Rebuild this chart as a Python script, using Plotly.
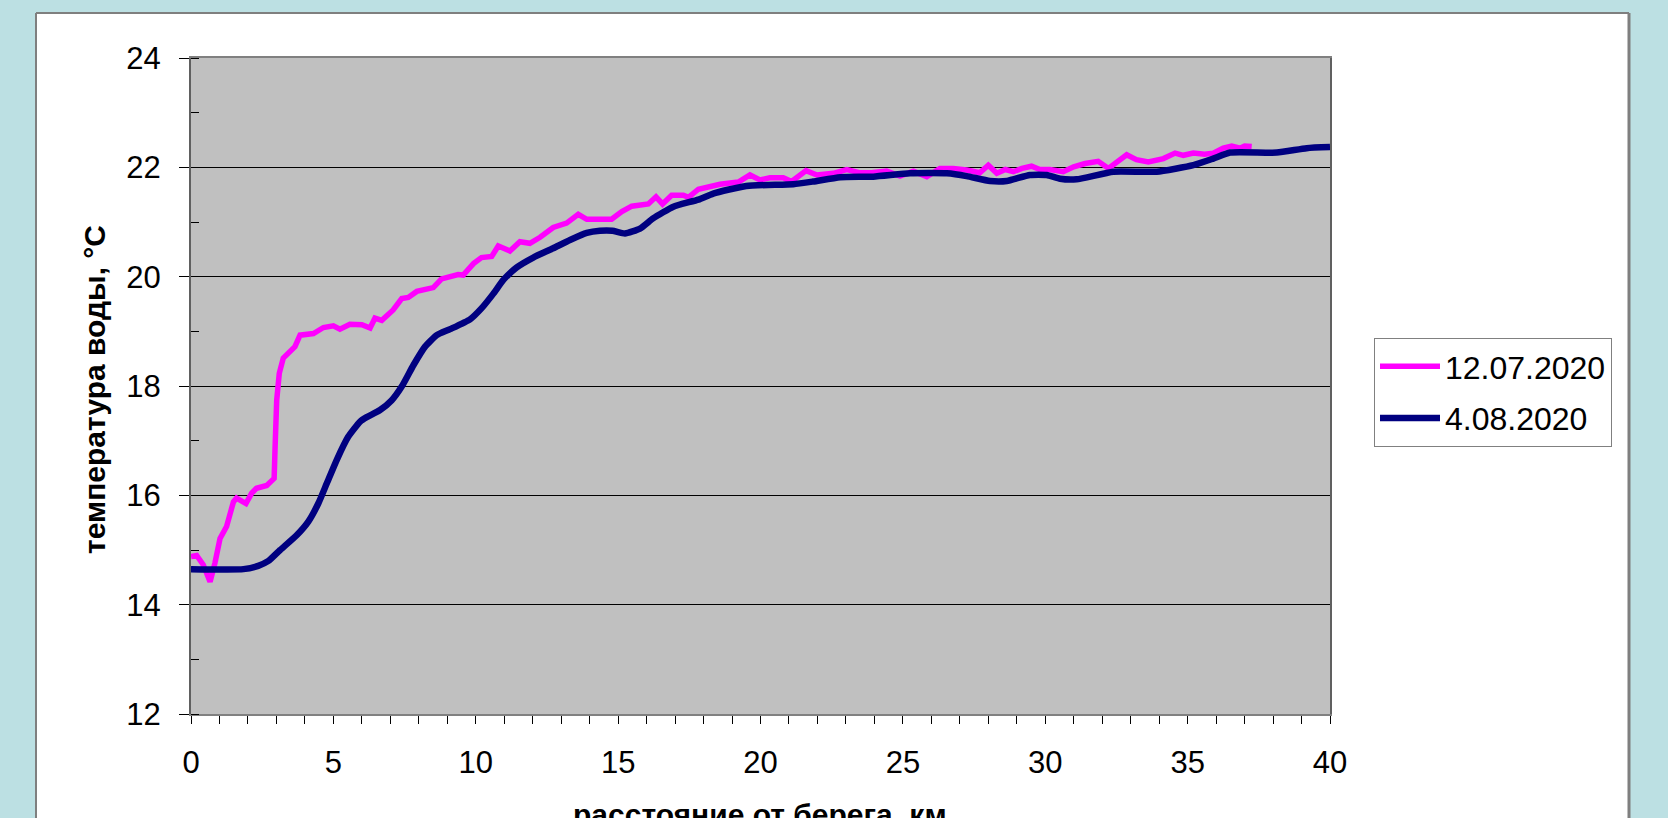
import plotly.graph_objects as go

# ---------------- data ----------------
dist_0712 = [0, 0.2, 0.43, 0.67, 0.84, 1.02, 1.25, 1.49, 1.6, 1.93,
             2.13, 2.3, 2.66, 2.92, 2.95, 3.01, 3.1, 3.24, 3.65, 3.83,
             4.3, 4.65, 5.0, 5.23, 5.58, 6.0, 6.29, 6.46, 6.7, 7.1,
             7.4, 7.63, 7.93, 8.51, 8.8, 9.2, 9.38, 9.56, 9.92, 10.2,
             10.56, 10.79, 11.2, 11.55, 11.9, 12.26, 12.72, 13.19, 13.6, 13.9,
             14.77, 15.13, 15.48, 16.06, 16.33, 16.56, 16.88, 17.29, 17.47, 17.82,
             18.58, 19.22, 19.63, 19.98, 20.33, 20.8, 21.09, 21.6, 21.98, 22.56,
             23.03, 23.5, 23.9, 24.43, 24.9, 25.37, 25.84, 26.3, 26.77, 27.24,
             27.7, 28.0, 28.3, 28.6, 28.88, 29.18, 29.52, 29.81, 30.16, 30.63,
             31.0, 31.4, 31.86, 32.22, 32.86, 33.2, 33.62, 34.15, 34.56, 34.85,
             35.2, 35.6, 35.9, 36.25, 36.55, 36.84, 37.0, 37.25]
temp_0712 = [14.88, 14.9, 14.73, 14.42, 14.76, 15.21, 15.43, 15.88, 15.95, 15.85,
             16.04, 16.13, 16.18, 16.31, 16.83, 17.74, 18.23, 18.51, 18.72, 18.93,
             18.96, 19.07, 19.1, 19.04, 19.13, 19.12, 19.06, 19.24, 19.2, 19.39,
             19.6, 19.62, 19.73, 19.8, 19.96, 20.0, 20.04, 20.03, 20.24, 20.35,
             20.37, 20.56, 20.47, 20.64, 20.61, 20.72, 20.9, 20.98, 21.14, 21.05,
             21.05, 21.19, 21.29, 21.33, 21.46, 21.33, 21.49, 21.49, 21.45, 21.6,
             21.69, 21.73, 21.86, 21.77, 21.81, 21.81, 21.74, 21.94, 21.86, 21.89,
             21.96, 21.9, 21.9, 21.93, 21.84, 21.93, 21.83, 21.98, 21.98, 21.95,
             21.9, 22.04, 21.89, 21.96, 21.92, 21.98, 22.02, 21.96, 21.96, 21.92,
             22.01, 22.07, 22.11, 21.98, 22.23, 22.14, 22.1, 22.16, 22.26, 22.22,
             22.26, 22.24, 22.26, 22.35, 22.39, 22.35, 22.39, 22.38]

dist_0408 = [0, 1.84, 2.36, 2.72, 3.13, 3.71, 4.12, 4.47, 4.77, 5.12,
             5.52, 5.94, 6.17, 6.64, 7.05, 7.4, 7.81, 8.22, 8.63, 9.1,
             9.8, 10.2, 10.62, 10.97, 11.44, 12.02, 12.72, 13.31, 13.9, 14.36,
             14.8, 15.24, 15.77, 16.24, 16.94, 17.82, 18.34, 19.5, 21.15, 21.85,
             22.8, 23.96, 25.25, 26.54, 27.24, 28.06, 28.65, 29.46, 30.05, 30.52,
             31.1, 32.39, 33.91, 35.2, 35.9, 36.49, 38.13, 39.18, 40.0]
temp_0408 = [14.65, 14.65, 14.71, 14.8, 15.0, 15.27, 15.52, 15.85, 16.22, 16.65,
             17.07, 17.35, 17.43, 17.56, 17.74, 17.99, 18.38, 18.72, 18.93, 19.04,
             19.22, 19.42, 19.69, 19.94, 20.17, 20.35, 20.52, 20.67, 20.8, 20.84,
             20.84, 20.79, 20.88, 21.07, 21.28, 21.41, 21.52, 21.66, 21.69, 21.74,
             21.82, 21.83, 21.89, 21.89, 21.84, 21.75, 21.75, 21.86, 21.86, 21.79,
             21.78, 21.92, 21.92, 22.04, 22.16, 22.27, 22.27, 22.35, 22.37]

series_names = ["12.07.2020", "4.08.2020"]
x_ticks = [0, 5, 10, 15, 20, 25, 30, 35, 40]
y_ticks = [12, 14, 16, 18, 20, 22, 24]
x_title = "расстояние от берега, км"
y_title = "температура воды, °С"

# ---------------- layout geometry (pixels) ----------------
W, H = 1668, 818
L, R, T, B = 191, 1330, 58, 714
PW, PH = R - L, B - T


def px(x):
    return (x - L) / PW


def py(y):
    return (B - y) / PH


FONT = "Arial, Liberation Sans, sans-serif"
BLUE = "#BCE0E3"

fig = go.Figure()
fig.add_trace(go.Scatter(x=dist_0712, y=temp_0712, mode="lines", name=series_names[0],
                         line=dict(color="#FF00FF", width=5.5), legendgroup="a"))
fig.add_trace(go.Scatter(x=dist_0408, y=temp_0408, mode="lines", name=series_names[1],
                         line=dict(color="#000080", width=6.5, shape="spline", smoothing=0.5),
                         legendgroup="b"))

shapes = [
    # light blue surroundings
    dict(type="rect", xref="paper", yref="paper", x0=px(-5), x1=px(36), y0=py(H + 10), y1=py(-5),
         fillcolor=BLUE, line_width=0, layer="below"),
    dict(type="rect", xref="paper", yref="paper", x0=px(1629), x1=px(W + 5), y0=py(H + 10), y1=py(-5),
         fillcolor=BLUE, line_width=0, layer="below"),
    dict(type="rect", xref="paper", yref="paper", x0=px(-5), x1=px(W + 5), y0=py(13), y1=py(-5),
         fillcolor=BLUE, line_width=0, layer="below"),
    # white panel border
    dict(type="line", xref="paper", yref="paper", x0=px(36), x1=px(1629), y0=py(13), y1=py(13),
         line=dict(color="#7F7F7F", width=2)),
    dict(type="line", xref="paper", yref="paper", x0=px(36), x1=px(36), y0=py(13), y1=py(H + 10),
         line=dict(color="#7F7F7F", width=2)),
    dict(type="line", xref="paper", yref="paper", x0=px(1629), x1=px(1629), y0=py(13), y1=py(H + 10),
         line=dict(color="#7F7F7F", width=3)),
]

annotations = [
    dict(text=y_title, xref="paper", yref="paper", x=px(94), y=py(390), textangle=-90,
         showarrow=False, xanchor="center", yanchor="middle",
         font=dict(family=FONT, size=30, color="black", weight="bold")),
    dict(text=x_title, xref="paper", yref="paper", x=px(760), y=py(814),
         showarrow=False, xanchor="center", yanchor="middle",
         font=dict(family=FONT, size=30, color="black", weight="bold")),
]

fig.update_layout(
    width=W, height=H,
    margin=dict(l=L, r=W - R, t=T, b=H - B, pad=0),
    paper_bgcolor="white",
    plot_bgcolor="#C0C0C0",
    font=dict(family=FONT, size=31, color="black"),
    showlegend=True,
    legend=dict(x=px(1374), y=py(338), xanchor="left", yanchor="top",
                bgcolor="white", bordercolor="#808080", borderwidth=1,
                font=dict(family=FONT, size=32, color="black"),
                tracegroupgap=7, itemwidth=60),
    shapes=shapes,
    annotations=annotations,
    xaxis=dict(range=[0, 40], tickvals=x_ticks, showgrid=False, zeroline=False,
               showline=True, linecolor="#808080", linewidth=2, mirror=True,
               ticks="outside", ticklen=8, tickcolor="black", tickwidth=1,
               minor=dict(dtick=1, ticks="outside", ticklen=8, tickcolor="black", showgrid=False),
               ticklabelstandoff=12,
               tickfont=dict(family=FONT, size=31, color="black")),
    yaxis=dict(range=[12, 24], tickvals=y_ticks, showgrid=True, gridcolor="black", gridwidth=1,
               zeroline=False, showline=True, linecolor="#606060", linewidth=2, mirror=True,
               ticks="outside", ticklen=10, tickcolor="black", tickwidth=1,
               minor=dict(dtick=1, tick0=12, ticks="inside", ticklen=8, tickcolor="black", showgrid=False),
               ticklabelstandoff=12,
               tickfont=dict(family=FONT, size=31, color="black")),
)

fig.write_html("out.html", config={"displayModeBar": False},
               post_script="document.body.style.margin='0';document.body.style.padding='0';"
                           "document.body.style.overflow='hidden';")
